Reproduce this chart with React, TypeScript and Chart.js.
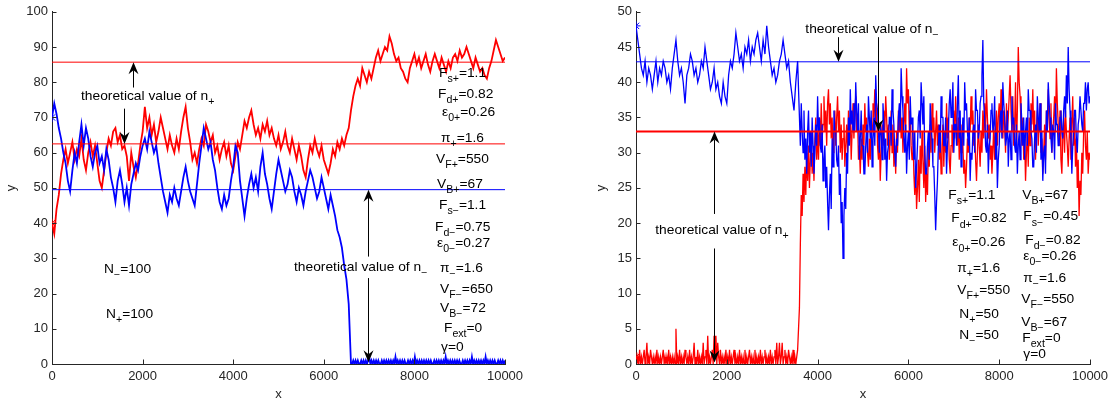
import React, { useEffect, useRef } from "react";
import { Chart, registerables } from "chart.js";

Chart.register(...registerables);

const FONT = '"Liberation Sans", Arial, Helvetica, sans-serif';
const AXIS_COLOR = "#262626";
const RED = "#ff0000";
const BLUE = "#0000ff";

// ---------- shared axis ----------
const X_TICKS = [0, 2000, 4000, 6000, 8000, 10000];
const LEFT_Y_TICKS = [0, 10, 20, 30, 40, 50, 60, 70, 80, 90, 100];
const RIGHT_Y_TICKS = [0, 5, 10, 15, 20, 25, 30, 35, 40, 45, 50];

// ---------- left panel data ----------
// n+ (red), 0..10000 every 50 steps
const LEFT_RED = [
  40, 37, 44, 48, 54, 58, 61, 57, 60, 63,
  58, 61, 59, 64, 58, 55, 60, 63, 59, 62,
  57, 52, 50, 55, 60, 64, 62, 66, 67, 63,
  65, 61, 62, 59, 52, 60, 56, 53, 57, 62,
  66, 73, 67, 70, 65, 68, 63, 66, 70, 67,
  64, 61, 65, 62, 60, 64, 61, 66, 70, 73,
  67, 63, 58, 60, 57, 61, 64, 62, 68, 66,
  63, 65, 60, 62, 58, 61, 63, 59, 62, 57,
  55, 59, 63, 61, 65, 69, 67, 70, 72, 68,
  65, 67, 64, 68, 66, 69, 65, 67, 64, 62,
  65, 61, 63, 66, 62, 60, 64, 61, 58, 62,
  59, 55, 53, 58, 62, 60, 64, 61, 59, 62,
  58, 56, 54, 57, 61, 59, 63, 61, 64, 62,
  65, 67, 72, 76, 79, 81, 79, 84, 82, 80,
  83, 81, 84, 87, 89, 86, 88, 90, 89, 93,
  91, 88, 86, 87, 84, 83, 81, 80, 84, 86,
  88, 85, 87, 84, 86, 88, 85, 83, 86, 88,
  86, 84, 87, 85, 83, 86, 84, 87, 88, 86,
  89, 87, 88, 90, 88, 86, 84, 87, 85, 83,
  84, 82, 81, 84, 86, 89, 92, 90, 88, 86,
  87,
];
// n- (blue), 0..6600 every 50 steps
const LEFT_BLUE_A = [
  70, 74, 71, 67, 64, 60, 57, 52, 49, 55,
  60, 57, 63, 68, 62, 67, 64, 59, 56, 60,
  62, 57, 59, 55, 61, 58, 53, 50, 46, 52,
  55, 51, 46, 50, 45, 51, 54, 57, 55, 59,
  62, 64, 61, 66, 63, 60, 62, 57, 53, 49,
  46, 43, 48, 46, 50, 47, 45, 49, 53, 56,
  52, 49, 47, 45, 51, 57, 62, 67, 64, 61,
  63, 58, 55, 50, 46, 44, 48, 45, 47, 52,
  56, 62, 60, 52, 47, 42, 47, 51, 54, 50,
  53, 49, 56, 60, 54, 51, 47, 44, 49, 54,
  58, 55, 52, 49, 51, 55, 53, 49, 46, 50,
  48, 45, 49, 52, 55, 53, 50, 47, 49, 53,
  50, 47, 44, 48, 45, 42, 38, 36, 33, 28,
  24, 17, 0,
];
// n- (blue), 6625..10000 every 25 steps
const LEFT_BLUE_B = [
  0, 1, 0, 1, 0, 1, 0, 0, 1, 0, 1, 0, 1, 0, 1, 2, 0, 1, 0, 1,
  0, 1, 0, 1, 0, 0, 1, 0, 1, 0, 1, 0, 1, 0, 1, 0, 1, 0, 2, 0,
  1, 0, 1, 0, 1, 0, 1, 0, 0, 1, 0, 1, 0, 1, 0, 2, 0, 1, 0, 1,
  0, 1, 0, 1, 0, 1, 0, 1, 0, 1, 0, 0, 1, 0, 1, 0, 1, 0, 1, 0,
  1, 0, 2, 0, 1, 0, 1, 0, 1, 0, 1, 0, 1, 0, 1, 0, 0, 1, 0, 1,
  0, 1, 0, 1, 0, 2, 0, 1, 0, 1, 0, 1, 0, 1, 0, 1, 0, 2, 0, 1,
  0, 1, 0, 1, 0, 1, 0, 0, 1, 0, 1, 0, 1, 0, 1,
];
const LEFT_REF_RED = [85.7, 62.5];
const LEFT_REF_BLUE = [49.5];

// ---------- right panel data ----------
// n- (blue) 0..3560 every 40 steps
const RIGHT_BLUE_A = [
  48, 46, 44, 42, 41, 43, 40, 42, 41, 39,
  41, 43, 40, 42, 41, 43, 42, 40, 41, 39,
  42, 44, 46, 43, 41, 42, 40, 37, 41, 42,
  44, 43, 41, 42, 40, 41, 43, 42, 45, 43,
  41, 39, 40, 42, 39, 40, 38, 37, 40, 38,
  37, 41, 43, 42, 44, 47, 45, 43, 44, 42,
  45, 44, 46, 43, 45, 44, 46, 47, 45, 43,
  46, 44, 48, 45, 43, 41, 42, 40, 41, 43,
  44, 46, 44, 42, 43, 40, 38, 36, 40, 43,
];
// n- (blue) 3600..10000 every 20 steps
const RIGHT_BLUE_B = [
  35, 31, 37, 33, 30, 36, 29, 32, 27, 33, 36, 30, 33, 28, 35, 31, 27, 30, 34, 31,
  38, 33, 35, 31, 30, 34, 26, 29, 31, 25, 28, 23, 19, 24, 27, 22, 32, 28, 36, 33,
  33, 29, 28, 31, 24, 27, 20, 23, 15, 21, 25, 22, 30, 27, 35, 31, 39, 34, 36, 33,
  37, 33, 40, 36, 33, 37, 29, 32, 36, 31, 31, 27, 27, 31, 34, 30, 38, 35, 32, 36,
  28, 32, 35, 31, 41, 37, 36, 33, 30, 34, 33, 29, 37, 34, 29, 32, 26, 30, 31, 35,
  35, 31, 39, 36, 34, 30, 28, 32, 31, 35, 37, 33, 42, 38, 36, 32, 30, 34, 27, 31,
  33, 29, 38, 34, 35, 32, 29, 33, 25, 28, 31, 35, 36, 32, 40, 37, 34, 38, 30, 27,
  27, 31, 33, 29, 37, 34, 32, 28, 28, 24, 19, 23, 26, 31, 34, 30, 38, 35, 35, 31,
  31, 35, 27, 31, 33, 37, 39, 35, 36, 40, 30, 34, 34, 31, 37, 41, 32, 36, 28, 32,
  35, 31, 40, 36, 37, 33, 31, 35, 26, 30, 29, 33, 34, 30, 39, 36, 36, 32, 33, 37,
  38, 41, 46, 37, 35, 31, 30, 34, 27, 31, 32, 36, 37, 33, 34, 38, 29, 33, 25, 29,
  31, 35, 36, 32, 40, 37, 35, 31, 32, 36, 28, 32, 33, 29, 38, 34, 35, 31, 30, 34,
  27, 31, 33, 29, 37, 34, 31, 35, 29, 33, 35, 31, 39, 36, 36, 33, 32, 28, 28, 32,
  34, 30, 38, 35, 33, 37, 29, 33, 26, 30, 31, 27, 36, 33, 40, 37, 35, 32, 30, 34,
  33, 29, 37, 34, 34, 31, 31, 35, 36, 33, 32, 36, 38, 35, 41, 37, 45, 39, 36, 32,
  27, 31, 33, 36, 36, 32, 30, 34, 35, 38, 38, 34, 33, 37, 37, 40, 36, 39, 40, 37,
  38,
];
// n+ (red) 0..3560 every 20 steps
const RIGHT_RED_A = [
  1, 0, 1, 0, 2, 0, 1, 0, 1, 2, 0, 1, 3, 0, 1, 0, 2, 1, 0, 1,
  0, 1, 0, 2, 0, 1, 0, 1, 0, 1, 2, 0, 1, 0, 1, 0, 2, 0, 1, 0,
  1, 0, 1, 0, 5, 0, 1, 0, 2, 0, 1, 0, 1, 0, 2, 1, 0, 1, 0, 2,
  0, 1, 0, 1, 3, 0, 1, 0, 2, 0, 1, 0, 1, 0, 3, 0, 1, 2, 0, 4,
  0, 1, 0, 1, 2, 0, 4, 1, 4, 0, 3, 1, 0, 2, 0, 1, 0, 1, 0, 2,
  0, 1, 0, 2, 0, 1, 0, 1, 2, 0, 1, 0, 1, 0, 2, 0, 1, 0, 1, 0,
  2, 0, 1, 0, 1, 2, 0, 1, 0, 1, 0, 2, 0, 1, 0, 1, 0, 2, 0, 1,
  0, 1, 2, 0, 1, 0, 1, 0, 2, 0, 1, 0, 1, 2, 0, 3, 0, 1, 3, 0,
  1, 3, 0, 1, 2, 0, 1, 0, 2, 1, 0, 1, 0, 2, 0, 1, 0, 1, 2,
];
// n+ (red) 3600..10000 every 20 steps
const RIGHT_RED_B = [
  8, 17, 24, 21, 27, 23, 28, 24, 30, 26, 31, 25, 29, 33, 27, 30, 26, 32, 35, 29,
  33, 29, 35, 31, 37, 32, 34, 38, 33, 36, 31, 37, 39, 34, 37, 32, 35, 30, 33, 36,
  31, 35, 38, 33, 36, 30, 34, 29, 32, 35, 28, 31, 34, 30, 36, 32, 35, 29, 33, 37,
  32, 36, 38, 33, 35, 29, 31, 27, 32, 29, 34, 31, 37, 33, 35, 30, 28, 32, 29, 35,
  33, 37, 35, 39, 34, 37, 31, 29, 33, 26, 30, 34, 31, 36, 33, 38, 35, 31, 34, 29,
  32, 36, 30, 34, 28, 31, 27, 33, 30, 36, 33, 37, 32, 35, 30, 34, 37, 33, 42, 37,
  39, 33, 36, 31, 29, 33, 27, 24, 28, 22, 25, 29, 23, 31, 27, 33, 29, 25, 31, 23,
  27, 24, 31, 28, 34, 30, 37, 33, 35, 30, 33, 36, 31, 34, 29, 32, 27, 31, 34, 28,
  33, 30, 37, 32, 35, 29, 27, 31, 34, 30, 36, 32, 38, 34, 31, 35, 29, 33, 30, 34,
  31, 27, 29, 25, 28, 32, 30, 35, 33, 38, 34, 36, 31, 33, 29, 26, 30, 34, 31, 28,
  33, 30, 36, 32, 37, 33, 39, 35, 32, 34, 29, 31, 27, 30, 34, 29, 33, 36, 31, 35,
  37, 33, 39, 35, 32, 36, 34, 30, 37, 33, 35, 38, 41, 36, 33, 38, 31, 34, 40, 30,
  36, 45, 40, 38, 34, 31, 35, 29, 32, 26, 30, 33, 28, 35, 31, 37, 34, 39, 33, 36,
  29, 33, 36, 31, 34, 37, 30, 32, 27, 30, 34, 29, 36, 33, 39, 35, 32, 37, 30, 33,
  35, 38, 33, 42, 37, 34, 31, 36, 29, 27, 32, 35, 30, 36, 33, 31, 28, 32, 35, 29,
  34, 38, 31, 35, 28, 32, 25, 29, 21, 26, 24, 30, 27, 33, 36, 31, 29, 33, 27, 30,
  29,
];
const RIGHT_REF_BLUE = [42.9];
const RIGHT_REF_RED = [33];

// ---------- annotations (data coordinates) ----------
const LEFT_TEXTS = [
  { x: 640, y: 75.9, s: "theoretical value of n_{+}" },
  { x: 8543, y: 82.6, s: "F_{s+}=1.1" },
  { x: 8521, y: 76.5, s: "F_{d+}=0.82" },
  { x: 8609, y: 71.4, s: "ε_{0+}=0.26" },
  { x: 8587, y: 64.1, s: "π_{+}=1.6" },
  { x: 8477, y: 58.0, s: "V_{F+}=550" },
  { x: 8499, y: 51.0, s: "V_{B+}=67" },
  { x: 8543, y: 45.1, s: "F_{s−}=1.1" },
  { x: 8455, y: 38.9, s: "F_{d−}=0.75" },
  { x: 8499, y: 34.2, s: "ε_{0−}=0.27" },
  { x: 8565, y: 27.2, s: "π_{−}=1.6" },
  { x: 8565, y: 21.3, s: "V_{F−}=650" },
  { x: 8565, y: 15.7, s: "V_{B−}=72" },
  { x: 8653, y: 10.1, s: "F_{ext}=0" },
  { x: 8587, y: 4.8, s: "γ=0" },
  { x: 1148, y: 26.9, s: "N_{−}=100" },
  { x: 1192, y: 14.0, s: "N_{+}=100" },
  { x: 5342, y: 27.5, s: "theoretical value of n_{−}" },
];
const LEFT_ARROWS = [
  { x: 1790, from: 78.5, to: 85.7 },
  { x: 1590, from: 72.5, to: 62.5 },
  { x: 6970, from: 30.5, to: 49.5 },
  { x: 6970, from: 24.4, to: 0.5 },
];
const RIGHT_TEXTS = [
  { x: 3729, y: 47.5, s: "theoretical value of n_{−}" },
  { x: 425, y: 19.0, s: "theoretical value of n_{+}" },
  { x: 6879, y: 23.9, s: "F_{s+}=1.1" },
  { x: 6945, y: 20.6, s: "F_{d+}=0.82" },
  { x: 6967, y: 17.2, s: "ε_{0+}=0.26" },
  { x: 7077, y: 13.6, s: "π_{+}=1.6" },
  { x: 7077, y: 10.5, s: "V_{F+}=550" },
  { x: 7121, y: 7.1, s: "N_{+}=50" },
  { x: 7121, y: 4.1, s: "N_{−}=50" },
  { x: 8509, y: 23.9, s: "V_{B+}=67" },
  { x: 8531, y: 20.9, s: "F_{s−}=0.45" },
  { x: 8575, y: 17.6, s: "F_{d−}=0.82" },
  { x: 8531, y: 15.3, s: "ε_{0−}=0.26" },
  { x: 8531, y: 12.2, s: "π_{−}=1.6" },
  { x: 8487, y: 9.2, s: "V_{F−}=550" },
  { x: 8487, y: 5.9, s: "V_{B−}=67" },
  { x: 8509, y: 3.6, s: "F_{ext}=0" },
  { x: 8531, y: 1.4, s: "γ=0" },
];
const RIGHT_ARROWS = [
  { x: 4450, from: 46.4, to: 42.9 },
  { x: 5320, from: 46.4, to: 33 },
  { x: 1720, from: 21.3, to: 33 },
  { x: 1720, from: 16.4, to: 0.2 },
];

// ---------- helpers ----------
function toPoints(values: number[], start: number, end: number) {
  const step = values.length > 1 ? (end - start) / (values.length - 1) : 0;
  return values.map((v, i) => ({ x: start + i * step, y: v }));
}

function hLine(v: number) {
  return [
    { x: 0, y: v },
    { x: 10000, y: v },
  ];
}

function parseRich(str: string) {
  const parts: { t: string; sub: boolean }[] = [];
  let buf = "";
  let i = 0;
  while (i < str.length) {
    const c = str[i];
    if (c === "_") {
      if (buf) {
        parts.push({ t: buf, sub: false });
        buf = "";
      }
      if (str[i + 1] === "{") {
        const j = str.indexOf("}", i);
        parts.push({ t: str.slice(i + 2, j), sub: true });
        i = j + 1;
      } else {
        parts.push({ t: str[i + 1], sub: true });
        i += 2;
      }
    } else {
      buf += c;
      i++;
    }
  }
  if (buf) parts.push({ t: buf, sub: false });
  return parts;
}

function drawRich(ctx: CanvasRenderingContext2D, str: string, x: number, y: number) {
  ctx.save();
  ctx.translate(x, y);
  ctx.scale(1.06, 1);
  let cx = 0;
  ctx.textAlign = "left";
  ctx.textBaseline = "middle";
  for (const p of parseRich(str)) {
    ctx.font = `${p.sub ? 10 : 13}px ${FONT}`;
    ctx.fillText(p.t, cx, p.sub ? 6 : 0);
    cx += ctx.measureText(p.t).width;
  }
  ctx.restore();
}

function drawArrow(ctx: CanvasRenderingContext2D, x1: number, y1: number, x2: number, y2: number) {
  const dx = x2 - x1;
  const dy = y2 - y1;
  const len = Math.hypot(dx, dy) || 1;
  const ux = dx / len;
  const uy = dy / len;
  const nx = -uy;
  const ny = ux;
  const L = 12;
  const W = 5;
  const N = 8;
  ctx.beginPath();
  ctx.moveTo(x1, y1);
  ctx.lineTo(x2 - ux * N, y2 - uy * N);
  ctx.stroke();
  ctx.beginPath();
  ctx.moveTo(x2, y2);
  ctx.lineTo(x2 - ux * L + nx * W, y2 - uy * L + ny * W);
  ctx.lineTo(x2 - ux * N, y2 - uy * N);
  ctx.lineTo(x2 - ux * L - nx * W, y2 - uy * L - ny * W);
  ctx.closePath();
  ctx.fill();
}

const overlayPlugin = {
  id: "overlay",
  afterDraw(chart: any, _args: any, opts: any) {
    const { ctx, chartArea } = chart;
    const xs = chart.scales.x;
    const ys = chart.scales.y;
    ctx.save();
    ctx.strokeStyle = AXIS_COLOR;
    ctx.lineWidth = 1;
    for (const t of xs.ticks) {
      const px = Math.round(xs.getPixelForValue(t.value)) + 0.5;
      ctx.beginPath();
      ctx.moveTo(px, chartArea.bottom);
      ctx.lineTo(px, chartArea.bottom - 4.5);
      ctx.stroke();
    }
    for (const t of ys.ticks) {
      const py = Math.round(ys.getPixelForValue(t.value)) + 0.5;
      ctx.beginPath();
      ctx.moveTo(chartArea.left, py);
      ctx.lineTo(chartArea.left + 4.5, py);
      ctx.stroke();
    }
    ctx.strokeStyle = "#000";
    ctx.fillStyle = "#000";
    ctx.lineWidth = 1;
    for (const a of opts.arrows || []) {
      const px = Math.round(xs.getPixelForValue(a.x)) + 0.5;
      drawArrow(ctx, px, ys.getPixelForValue(a.from), px, ys.getPixelForValue(a.to));
    }
    ctx.fillStyle = "#000";
    for (const t of opts.texts || []) {
      drawRich(ctx, t.s, xs.getPixelForValue(t.x), ys.getPixelForValue(t.y));
    }
    ctx.restore();
  },
};

function lineDs(data: any[], color: string, width: number, order: number) {
  return {
    data,
    borderColor: color,
    backgroundColor: color,
    borderWidth: width,
    pointRadius: 0,
    tension: 0,
    fill: false,
    order,
  };
}

function starDs(p: { x: number; y: number }, color: string) {
  return {
    data: [p],
    showLine: false,
    pointStyle: "star",
    pointRadius: 4.5,
    borderColor: color,
    backgroundColor: color,
    pointBorderColor: color,
    pointBorderWidth: 1,
    order: 0,
  };
}

function makeConfig(p: any) {
  const tickFont = { family: FONT, size: 13 };
  const datasets: any[] = [];
  p.refRed.forEach((v: number) => datasets.push(lineDs(hLine(v), RED, p.refRedWidth, 0)));
  p.refBlue.forEach((v: number) => datasets.push(lineDs(hLine(v), BLUE, 1, 0)));
  datasets.push(lineDs(p.blue, BLUE, p.seriesWidth, 1));
  datasets.push(lineDs(p.red, RED, p.seriesWidth, 2));
  datasets.push(starDs(p.red[0], RED));
  datasets.push(starDs(p.blue[0], BLUE));
  return {
    type: "line",
    data: { datasets },
    plugins: [overlayPlugin],
    options: {
      responsive: false,
      animation: false,
      events: [],
      layout: { padding: { left: 0, right: p.rightPad, top: 0, bottom: 0 } },
      plugins: {
        legend: { display: false },
        tooltip: { enabled: false },
        overlay: { texts: p.texts, arrows: p.arrows },
      },
      scales: {
        x: {
          type: "linear",
          min: 0,
          max: 10000,
          afterBuildTicks: (s: any) => {
            s.ticks = X_TICKS.map((v) => ({ value: v }));
          },
          afterFit: (s: any) => {
            s.height = 44;
          },
          ticks: {
            font: tickFont,
            color: AXIS_COLOR,
            padding: 5,
            maxRotation: 0,
            autoSkip: false,
            callback: (v: any) => String(v),
          },
          grid: { display: false, drawTicks: false },
          border: { display: true, color: AXIS_COLOR, width: 1 },
          title: {
            display: true,
            text: "x",
            color: AXIS_COLOR,
            font: { family: FONT, size: 13 },
            padding: { top: 0, bottom: 6 },
          },
        },
        y: {
          type: "linear",
          min: 0,
          max: p.yMax,
          afterBuildTicks: (s: any) => {
            s.ticks = p.yTicks.map((v: number) => ({ value: v }));
          },
          afterFit: (s: any) => {
            s.width = p.yAxisWidth;
          },
          ticks: { font: tickFont, color: AXIS_COLOR, padding: 4, callback: (v: any) => String(v) },
          grid: { display: false, drawTicks: false },
          border: { display: true, color: AXIS_COLOR, width: 1 },
          title: {
            display: true,
            text: "y",
            color: AXIS_COLOR,
            font: { family: FONT, size: 13 },
            padding: { top: p.yTitlePad, bottom: 0 },
          },
        },
      },
    },
  } as any;
}

function Panel({ config, left, width }: { config: () => any; left: number; width: number }) {
  const ref = useRef<HTMLCanvasElement>(null);
  useEffect(() => {
    const chart = new Chart(ref.current as HTMLCanvasElement, config());
    return () => chart.destroy();
  }, []);
  return (
    <canvas
      ref={ref}
      width={width}
      height={408}
      style={{ position: "absolute", left, top: 0, width, height: 408 }}
    />
  );
}

const leftConfig = () =>
  makeConfig({
    red: toPoints(LEFT_RED, 0, 10000),
    blue: [...toPoints(LEFT_BLUE_A, 0, 6600), ...toPoints(LEFT_BLUE_B, 6625, 10000)],
    refRed: LEFT_REF_RED,
    refBlue: LEFT_REF_BLUE,
    refRedWidth: 1,
    seriesWidth: 1.8,
    yMax: 100,
    yTicks: LEFT_Y_TICKS,
    yAxisWidth: 52,
    yTitlePad: 4,
    rightPad: 35,
    texts: LEFT_TEXTS,
    arrows: LEFT_ARROWS,
  });

const rightConfig = () =>
  makeConfig({
    red: [...toPoints(RIGHT_RED_A, 0, 3560), ...toPoints(RIGHT_RED_B, 3600, 10000)],
    blue: [...toPoints(RIGHT_BLUE_A, 0, 3560), ...toPoints(RIGHT_BLUE_B, 3600, 10000)],
    refRed: RIGHT_REF_RED,
    refBlue: RIGHT_REF_BLUE,
    refRedWidth: 2,
    seriesWidth: 1.3,
    yMax: 50,
    yTicks: RIGHT_Y_TICKS,
    yAxisWidth: 56,
    yTitlePad: 14,
    rightPad: 26,
    texts: RIGHT_TEXTS,
    arrows: RIGHT_ARROWS,
  });

export default function App() {
  return (
    <div style={{ position: "absolute", left: 0, top: 0, width: 1116, height: 408, background: "#fff" }}>
      <Panel config={leftConfig} left={0} width={540} />
      <Panel config={rightConfig} left={580} width={536} />
    </div>
  );
}
